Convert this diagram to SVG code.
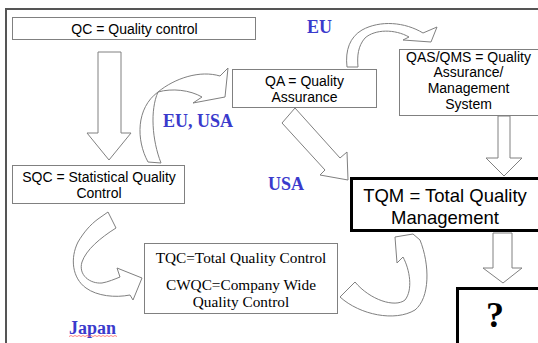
<svg xmlns="http://www.w3.org/2000/svg" width="538" height="343" viewBox="0 0 538 343">
  <style>
    .box { fill: #ffffff; stroke: #808080; stroke-width: 1; }
    .bold { fill: #ffffff; stroke: #000000; stroke-width: 3; }
    .arw { fill: #ffffff; stroke: #808080; stroke-width: 1; stroke-linejoin: miter; }
    .sans { font-family: "Liberation Sans", Arial, sans-serif; font-size: 14px; fill: #000; text-anchor: middle; }
    .serif { font-family: "Liberation Serif", "Times New Roman", serif; font-size: 15.3px; fill: #000; text-anchor: middle; }
    .lbl { font-family: "Liberation Serif", "Times New Roman", serif; font-size: 18px; font-weight: bold; fill: #3a3acc; }
  </style>
  <rect x="0" y="0" width="538" height="343" fill="#ffffff"/>
  <path d="M6,343 L6,9 L540,9" fill="none" stroke="#555555" stroke-width="2"/>

  <g id="connectors">
    <polygon class="arw" points="98,52 121,52 121,133 131,133 109,160 87,133 98,133"/>
    <polygon class="arw" points="295,108 340,158 347,152 348,180 320,175 325,170 282,123"/>
    <polygon class="arw" points="498,116 510,116 510,158 522,158 504,176 486,158 498,158"/>
    <polygon class="arw" points="493,233 512,233 512,268 522,268 503,283 483,268 493,268"/>
    <path class="arw" d="M148,162 C136,140 136,108 158,92 C175,78 200,70 220,76 L228,68 L225,97 L193,103 L202,97 C190,90 172,88 158,92 C150,110 152,140 161,163 Z"/>
    <path class="arw" d="M347,67 C345,50 350,37 362,30 C380,20 405,22 423,33 L437,27 L431,42 L403,40 L409,37 C395,29 375,29 365,38 C358,46 357,56 358,67 Z"/>
    <path class="arw" d="M98,219 L108,212 L116,228 C100,238 86,250 82,262 C78,275 90,284 102,283 C108,282 115,279 120,277 L117,268 L142,278 L133,300 L130,295 C115,298 97,296 86,288 C72,278 70,258 78,242 C84,232 90,225 98,219 Z"/>
    <path class="arw" d="M340,297 C360,315 395,322 415,310 C430,298 430,265 420,240 L413,234 L395,237 L397,263 L403,257 C410,270 413,290 405,300 C395,308 370,300 355,282 Z"/>
  </g>

  <g id="qc">
    <rect class="box" x="12.5" y="17.5" width="243" height="22"/>
    <text class="sans" x="134.5" y="34">QC = Quality control</text>
  </g>
  <g id="qa">
    <rect class="box" x="232.5" y="69.5" width="144" height="38"/>
    <text class="sans" x="304.5" y="86">QA = Quality</text>
    <text class="sans" x="304.5" y="102">Assurance</text>
  </g>
  <g id="qas">
    <rect class="box" x="399.5" y="49.5" width="145" height="66"/>
    <text class="sans" x="468.5" y="62">QAS/QMS = Quality</text>
    <text class="sans" x="468.5" y="77">Assurance/</text>
    <text class="sans" x="468.5" y="93">Management</text>
    <text class="sans" x="468.5" y="109">System</text>
  </g>
  <g id="sqc">
    <rect class="box" x="12.5" y="165.5" width="172" height="38"/>
    <text class="sans" x="99" y="182">SQC = Statistical Quality</text>
    <text class="sans" x="99" y="198">Control</text>
  </g>
  <g id="tqc">
    <rect class="box" x="144.5" y="243.5" width="193" height="70"/>
    <text class="serif" x="241" y="263">TQC=Total Quality Control</text>
    <text class="serif" x="241" y="290">CWQC=Company Wide</text>
    <text class="serif" x="241" y="307">Quality Control</text>
  </g>
  <g id="tqm">
    <rect class="bold" x="351.5" y="178.5" width="200" height="52"/>
    <text class="sans" style="font-size:18.5px" x="445" y="202">TQM = Total Quality</text>
    <text class="sans" style="font-size:18.5px" x="445" y="224">Management</text>
  </g>
  <g id="unknown">
    <rect class="bold" x="457.5" y="288.5" width="100" height="70"/>
    <text x="495" y="327" style="font-family:'Liberation Serif','Times New Roman',serif;font-size:36px;font-weight:bold;text-anchor:middle;fill:#000">?</text>
  </g>

  <g id="labels">
    <text class="lbl" x="307" y="33">EU</text>
    <text class="lbl" x="163" y="127">EU, USA</text>
    <text class="lbl" x="268" y="190">USA</text>
    <text class="lbl" x="69" y="334">Japan</text>
    <path d="M69,336.5 l2,-1 l2,1 l2,-1 l2,1 l2,-1 l2,1 l2,-1 l2,1 l2,-1 l2,1 l2,-1 l2,1 l2,-1 l2,1 l2,-1 l2,1 l2,-1 l2,1 l2,-1 l2,1 l2,-1 l2,1 l2,-1 l2,1" fill="none" stroke="#ff6666" stroke-width="0.8"/>
  </g>
</svg>
